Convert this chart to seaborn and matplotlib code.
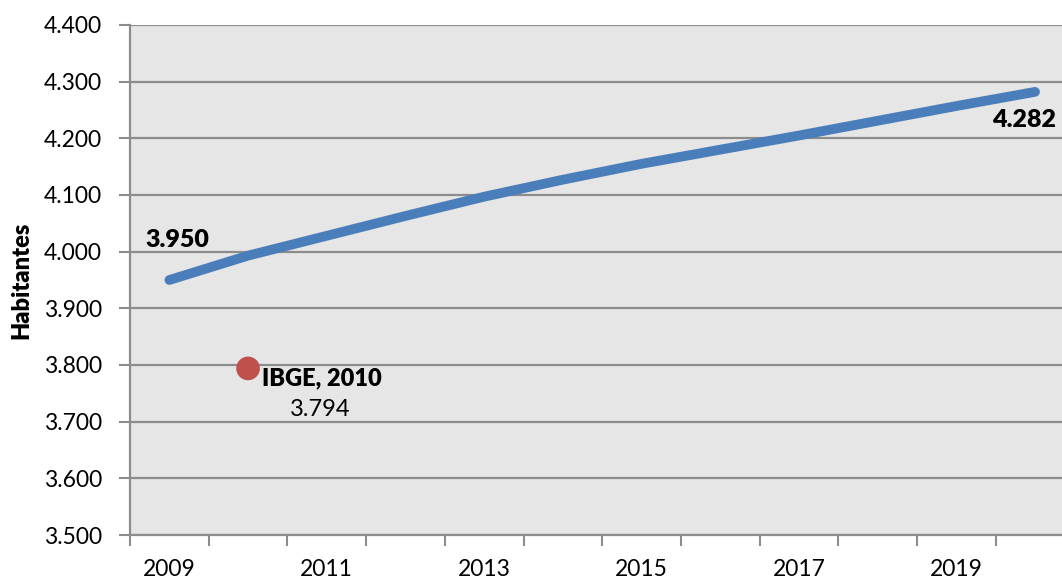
import matplotlib
matplotlib.use("Agg")
import matplotlib.pyplot as plt
import matplotlib.ticker as mticker
import seaborn as sns

# dados da projeção populacional
anos = [2009, 2010, 2011, 2012, 2013, 2014, 2015, 2016, 2017, 2018, 2019, 2020]
habitantes = [3950, 3993, 4028, 4063, 4097, 4127, 4155, 4180, 4205, 4231, 4257, 4282]

# censo IBGE
ibge_ano = [2010]
ibge_hab = [3794]

rotulos_x = [2009, 2011, 2013, 2015, 2017, 2019]

sns.set_style("white")
plt.rcParams['font.family'] = ['Lato', 'DejaVu Sans']
plt.rcParams['text.color'] = 'black'
plt.rcParams['axes.labelcolor'] = 'black'

fig = plt.figure(figsize=(10.62, 5.8), dpi=100)
ax = fig.add_axes([130 / 1062, 45 / 580, 944.4 / 1062, 510 / 580])
ax.set_facecolor('#E6E6E6')

cinza = '#8C8C8C'

sns.lineplot(x=anos, y=habitantes, ax=ax, color='#4A7EBB', linewidth=7,
             solid_capstyle='round', zorder=3)
sns.scatterplot(x=ibge_ano, y=ibge_hab, ax=ax, color='#C0504D', s=290,
                edgecolor='none', zorder=4)

ax.set_xlim(2008.5, 2020.5)
ax.set_ylim(3500, 4400)

# eixo y
ax.yaxis.set_major_locator(mticker.MultipleLocator(100))
ax.yaxis.set_major_formatter(
    mticker.FuncFormatter(lambda v, p: f"{v:,.0f}".replace(',', '.')))
ax.grid(axis='y', color=cinza, linewidth=1.6)
ax.set_axisbelow(True)

# eixo x por categorias
ax.set_xticks(rotulos_x)
ax.set_xticklabels([str(a) for a in rotulos_x])
ax.set_xticks([a - 0.5 for a in anos], minor=True)
ax.tick_params(axis='x', which='major', length=0, pad=17, labelsize=16.5,
               colors='black')
ax.tick_params(axis='x', which='minor', length=8, width=1.5, color=cinza,
               direction='out')
ax.tick_params(axis='y', which='major', length=8, width=1.5, color=cinza,
               direction='out', pad=12, labelsize=16.5, labelcolor='black')
ax.xaxis.set_tick_params(bottom=True, which='both')
ax.yaxis.set_tick_params(left=True)

for lado in ['top', 'right']:
    ax.spines[lado].set_visible(False)
for lado in ['left', 'bottom']:
    ax.spines[lado].set_color(cinza)
    ax.spines[lado].set_linewidth(1.6)

ax.set_ylabel('Habitantes', fontsize=17, fontweight='heavy', labelpad=8)
ax.set_xlabel('')

# rótulos de dados
ax.annotate(f"{habitantes[0]:,}".replace(',', '.'), (anos[0], habitantes[0]),
            xytext=(8, 40), textcoords='offset pixels', ha='center',
            va='center', fontsize=18, fontweight='heavy')
ax.annotate(f"{habitantes[-1]:,}".replace(',', '.'), (anos[-1], habitantes[-1]),
            xytext=(-11, -28), textcoords='offset pixels', ha='center',
            va='center', fontsize=18, fontweight='heavy')
ax.annotate('IBGE, 2010', (ibge_ano[0], ibge_hab[0]),
            xytext=(14, -10), textcoords='offset pixels', ha='left',
            va='center', fontsize=17, fontweight='heavy')
ax.annotate(f"{ibge_hab[0]:,}".replace(',', '.'), (ibge_ano[0], ibge_hab[0]),
            xytext=(72, -41), textcoords='offset pixels', ha='center',
            va='center', fontsize=17)

fig.savefig('out.png', dpi=100)
